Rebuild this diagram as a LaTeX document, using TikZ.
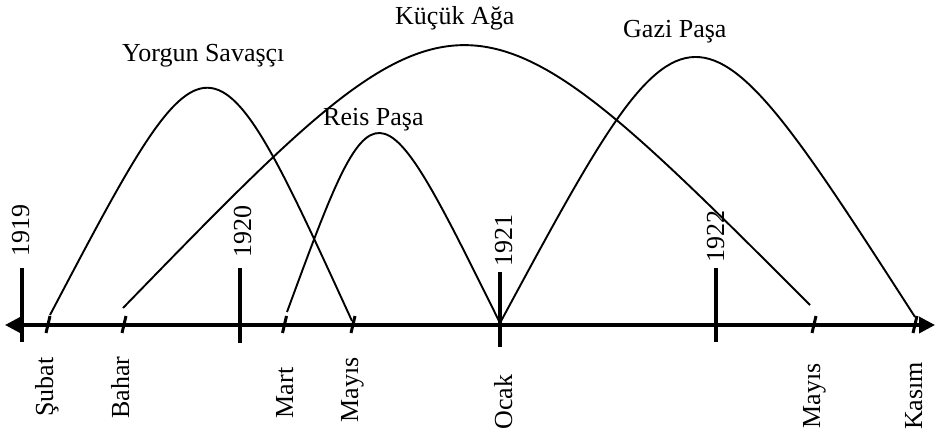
\documentclass[tikz,border=0pt]{standalone}
\usepackage{fontspec}
\setmainfont{Liberation Serif}
\usetikzlibrary{arrows.meta}
\begin{document}
\begin{tikzpicture}[x=1pt,y=-1pt,
  arch/.style={line width=1.9pt},
  axisline/.style={line width=3.5pt,{Triangle[length=16pt,width=16pt]}-{Triangle[length=16pt,width=16pt]}},
  yeartick/.style={line width=3.5pt},
  minortick/.style={line width=3pt},
  lbl/.style={font=\fontsize{26}{30}\selectfont, inner sep=0pt},
  vlbl/.style={lbl, rotate=90, anchor=base},
  ttl/.style={lbl, anchor=base west}]
\useasboundingbox (0,0) rectangle (936,435);
% axis
\coordinate (L) at (5,325);
\coordinate (R) at (935,325);
\draw[axisline] (L) -- (R);
% year ticks
\coordinate (y19a) at (22,268);  \coordinate (y19b) at (22,342);
\coordinate (y20a) at (240,268); \coordinate (y20b) at (240,343);
\coordinate (y21a) at (500,272); \coordinate (y21b) at (500,347);
\coordinate (y22a) at (716,268); \coordinate (y22b) at (716,342);
\draw[yeartick] (y19a) -- (y19b);
\draw[yeartick] (y20a) -- (y20b);
\draw[yeartick] (y21a) -- (y21b);
\draw[yeartick] (y22a) -- (y22b);
\node[vlbl] (t19) at (29,231) {1919};
\node[vlbl] (t20) at (251,232) {1920};
\node[vlbl] (t21) at (512,241) {1921};
\node[vlbl] (t22) at (724,237) {1922};
% minor ticks
\coordinate (m1) at (48,325);
\coordinate (m2) at (124,325);
\coordinate (m3) at (284.5,325);
\coordinate (m4) at (353,325);
\coordinate (m5) at (814,325);
\coordinate (m6) at (915,325);
\foreach \m in {m1,m2,m3,m4,m5,m6}
  \draw[minortick] (\m) ++(2,-9) -- ++(-4,17);
% bottom labels
\node[vlbl] (subat) at (53,387) {Şubat};
\node[vlbl] (bahar) at (129,387.5) {Bahar};
\node[vlbl] (mart) at (293,393) {Mart};
\node[vlbl] (mayis1) at (358,390) {Mayıs};
\node[vlbl] (ocak) at (512,402) {Ocak};
\node[vlbl] (mayis2) at (820,396) {Mayıs};
\node[vlbl] (kasim) at (922,396) {Kasım};
% arches
\coordinate (ys) at (50,315);  \coordinate (ye) at (352,321);
\coordinate (ks) at (123,308); \coordinate (ke) at (810,305);
\coordinate (rs) at (287,312); \coordinate (re) at (500,323);
\coordinate (gs) at (500,323); \coordinate (ge) at (915,317);
\draw[arch] (ys) .. controls (210,11) .. (ye);
\draw[arch] (ks) .. controls (463,-42) .. (ke);
\draw[arch] (rs) .. controls (375.5,71.5) .. (re);
\draw[arch] (gs) .. controls (690.8,-30.7) .. (ge);
% titles
\node[ttl] (yorgun) at (122,62) {Yorgun Savaşçı};
\node[ttl] (reis) at (323,126) {Reis Paşa};
\node[ttl] (kucuk) at (395,25) {Küçük Ağa};
\node[ttl] (gazi) at (623,38) {Gazi Paşa};
\end{tikzpicture}
\end{document}
